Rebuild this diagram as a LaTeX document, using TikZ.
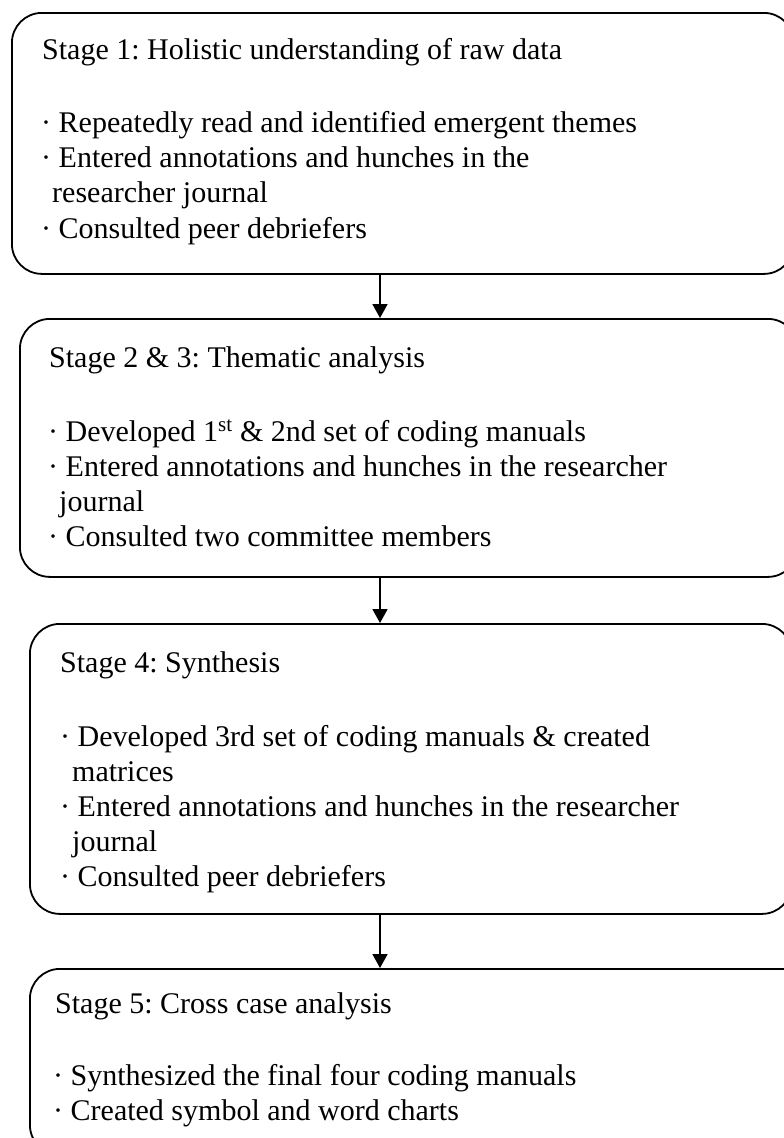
\documentclass[tikz,border=0pt]{standalone}
\usepackage{fontspec}
\setmainfont{Liberation Serif}
\usetikzlibrary{arrows.meta}
\frenchspacing
\begin{document}
\begin{tikzpicture}[x=1pt,y=-1pt,
  stagebox/.style={draw=black, line width=1.8pt, rounded corners=30pt, inner sep=0pt, anchor=north west},
  ln/.style={anchor=base west, inner sep=0pt, font=\fontsize{30}{35}\selectfont},
  arr/.style={line width=1.8pt, -{Triangle[length=14pt,width=15pt]}}]
\useasboundingbox (0,0) rectangle (784,1138);
\clip (0,0) rectangle (784,1138);
% boxes
\node[stagebox, minimum width=782pt, minimum height=261pt] (b1) at (11,12) {};
\node[stagebox, minimum width=778pt, minimum height=258pt] (b2) at (19,318) {};
\node[stagebox, minimum width=762pt, minimum height=290pt] (b3) at (29,623) {};
\node[stagebox, minimum width=790pt, minimum height=186pt] (b4) at (29,968) {};
% arrows
\coordinate (ax) at (380,0);
\draw[arr] (b1.south -| ax) -- (b2.north -| ax);
\draw[arr] (b2.south -| ax) -- (b3.north -| ax);
\draw[arr] (b3.south -| ax) -- (b4.north -| ax);
% box 1
\node[ln] (s1) at (42,59) {Stage 1: Holistic understanding of raw data};
\node[ln] (s1a) at (41,132) {· Repeatedly read and identified emergent themes};
\node[ln] (s1b) at (41,167) {· Entered annotations and hunches in the};
\node[ln] (s1c) at (52,202) {researcher journal};
\node[ln] (s1d) at (41,238) {· Consulted peer debriefers};
% box 2
\node[ln] (s2) at (49,367) {Stage 2 \& 3: Thematic analysis};
\node[ln] (s2a) at (48,441) {· Developed 1\textsuperscript{st} \& 2nd set of coding manuals};
\node[ln] (s2b) at (48,476) {· Entered annotations and hunches in the researcher};
\node[ln] (s2c) at (59,511) {journal};
\node[ln] (s2d) at (48,546) {· Consulted two committee members};
% box 3
\node[ln] (s3) at (60,672) {Stage 4: Synthesis};
\node[ln] (s3a) at (60,746) {· Developed 3rd set of coding manuals \& created};
\node[ln] (s3b) at (72,781) {matrices};
\node[ln] (s3c) at (60,816) {· Entered annotations and hunches in the researcher};
\node[ln] (s3d) at (72,851) {journal};
\node[ln] (s3e) at (60,886) {· Consulted peer debriefers};
% box 4
\node[ln] (s4) at (55,1013) {Stage 5: Cross case analysis};
\node[ln] (s4a) at (53,1085) {· Synthesized the final four coding manuals};
\node[ln] (s4b) at (53,1120) {· Created symbol and word charts};
\end{tikzpicture}
\end{document}
